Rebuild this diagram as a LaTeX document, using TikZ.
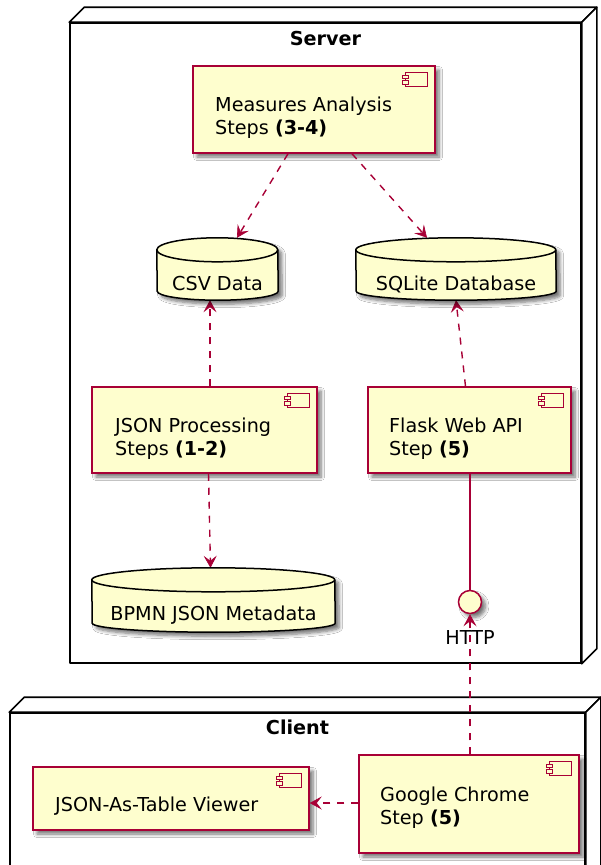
\documentclass[tikz,border=0pt]{standalone}
\usepackage{fontspec}
\setmainfont{DejaVu Sans}
\usetikzlibrary{arrows.meta,shadows.blur}
\definecolor{compfill}{HTML}{FEFECE}
\definecolor{compline}{HTML}{A80036}
\tikzset{
  x=1pt,y=1pt,
  every node/.style={font=\fontsize{19.2}{23}\selectfont},
  shad/.style={blur shadow={shadow xshift=4pt,shadow yshift=-4pt,shadow blur radius=3.5pt,shadow blur steps=6,shadow opacity=55}},
  comp/.style={draw=compline,fill=compfill,line width=1.5pt,rectangle,inner sep=0pt,shad},
  dbbox/.style={rectangle,inner sep=0pt,draw=none},
  dbpath/.style={draw=black,fill=compfill,line width=1.5pt},
  lbl/.style={inner sep=0pt},
  conn/.style={draw=compline,line width=1.4pt},
  dashconn/.style={conn,dash pattern=on 7pt off 7pt},
  arr/.style={-{Stealth[length=12pt,width=13pt,inset=5pt,line width=0.6pt]}},
  nodebox/.style={draw=black,fill=white,line width=1.6pt,line join=round},
  iconline/.style={draw=compline,fill=compfill,line width=1.2pt},
}
\newcommand\compicon[1]{%
  \path[iconline] ([xshift=-30pt,yshift=-7pt]#1.north east) rectangle ([xshift=-8pt,yshift=-21pt]#1.north east);
  \path[iconline] ([xshift=-33pt,yshift=-10pt]#1.north east) rectangle ([xshift=-27pt,yshift=-13.5pt]#1.north east);
  \path[iconline] ([xshift=-33pt,yshift=-15.5pt]#1.north east) rectangle ([xshift=-27pt,yshift=-19pt]#1.north east);
}
\newcommand\dbshape[2]{%
  \path[dbpath,shad] ([yshift=-12pt]#1.north west) arc[start angle=180,end angle=0,x radius=#2pt,y radius=12pt]
    -- ([yshift=9pt]#1.south east) arc[start angle=0,end angle=-180,x radius=#2pt,y radius=9pt] -- cycle;
  \draw[black,line width=1.5pt] ([yshift=-12pt]#1.north west) arc[start angle=180,end angle=360,x radius=#2pt,y radius=12pt];
}
\newcommand\nodeshape[2]{% name, depth
  \path[nodebox] (#1.north west) -- ([xshift=#2pt,yshift=#2pt]#1.north west) -- ([xshift=#2pt,yshift=#2pt]#1.north east) -- (#1.north east) -- cycle;
  \path[nodebox] (#1.north east) -- ([xshift=#2pt,yshift=#2pt]#1.north east) -- ([xshift=#2pt,yshift=#2pt]#1.south east) -- (#1.south east) -- cycle;
}
\begin{document}
\begin{tikzpicture}
\useasboundingbox (0,0) rectangle (600,-865);

% Server node
\node[nodebox,minimum width=511pt,minimum height=640pt,inner sep=0pt] (srv) at (325.5,-343) {};
\nodeshape{srv}{15}
\node[lbl,anchor=base] (srvl) at (325.5,-45) {\textbf{Server}};

% Client node
\node[nodebox,minimum width=575pt,minimum height=170pt,inner sep=0pt] (cli) at (297.5,-798) {};
\nodeshape{cli}{15}
\node[lbl,anchor=base] (clil) at (297.5,-734) {\textbf{Client}};

% cylinders (bounds)
\node[dbbox,minimum width=121pt,minimum height=62pt] (csv) at (217.5,-269) {};
\node[dbbox,minimum width=200pt,minimum height=62pt] (sql) at (456,-269) {};
\node[dbbox,minimum width=243pt,minimum height=64pt] (bpmn) at (213.5,-600) {};

% components
\node[comp,minimum width=242pt,minimum height=87pt] (ma) at (314,-109.5) {};
\node[comp,minimum width=225pt,minimum height=86pt] (jp) at (204.5,-430) {};
\node[comp,minimum width=203pt,minimum height=86pt] (fl) at (469.5,-430) {};
\node[comp,minimum width=276pt,minimum height=63pt] (jt) at (171,-798.5) {};
\node[comp,minimum width=220pt,minimum height=98pt] (gc) at (469,-804) {};
\node[circle,draw=compline,fill=compfill,line width=1.5pt,minimum size=23pt,inner sep=0pt,shad] (http) at (470,-602) {};

% connectors
\draw[dashconn,arr] ([xshift=-26pt]ma.south) -- ([xshift=19.5pt]csv.north);
\draw[dashconn,arr] ([xshift=38pt]ma.south) -- ([xshift=-29pt]sql.north);
\draw[dashconn,arr] ([xshift=5.5pt]jp.north) -- ([xshift=-7.5pt]csv.south);
\draw[dashconn,arr] ([xshift=4pt]jp.south) -- ([xshift=-3pt]bpmn.north);
\draw[dashconn,arr] ([xshift=-4pt]fl.north) -- (sql.south);
\draw[conn] (fl.south -| http) -- (http.north);
\draw[dashconn,arr] (gc.north -| http) -- (http.south);
\draw[dashconn,arr] ([yshift=1pt]gc.west) -- ([yshift=1pt]gc.west -| jt.east);

% cylinder drawings
\dbshape{csv}{60.5}
\dbshape{sql}{100}
\dbshape{bpmn}{121.5}

% icons
\compicon{ma}
\compicon{jp}
\compicon{fl}
\compicon{jt}
\compicon{gc}

% texts
\node[lbl,anchor=base west] (mat) at (215,-111) {\begin{tabular}[t]{@{}l@{}}Measures Analysis\\Steps \textbf{(3-4)}\end{tabular}};
\node[lbl,anchor=base west] (jpt) at (115,-432) {\begin{tabular}[t]{@{}l@{}}JSON Processing\\Steps \textbf{(1-2)}\end{tabular}};
\node[lbl,anchor=base west] (flt) at (389,-432) {\begin{tabular}[t]{@{}l@{}}Flask Web API\\Step \textbf{(5)}\end{tabular}};
\node[lbl,anchor=base west] (jtt) at (55,-811) {JSON-As-Table Viewer};
\node[lbl,anchor=base west] (gct) at (380,-801) {\begin{tabular}[t]{@{}l@{}}Google Chrome\\Step \textbf{(5)}\end{tabular}};
\node[lbl,anchor=base] (csvt) at (csv |- 0,-290) {CSV Data};
\node[lbl,anchor=base] (sqlt) at (sql |- 0,-290) {SQLite Database};
\node[lbl,anchor=base] (bpmnt) at (bpmn |- 0,-620) {BPMN JSON Metadata};
\node[lbl,anchor=base] (httpl) at (470,-644) {HTTP};
\end{tikzpicture}
\end{document}
